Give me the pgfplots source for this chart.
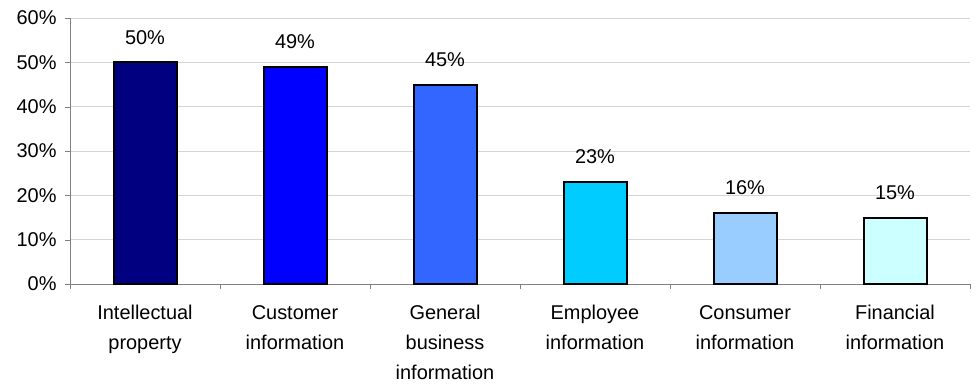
\documentclass[border=0pt]{standalone}
\usepackage{pgfplots}
\pgfplotsset{compat=1.18}
\usepackage{fontspec}
\setmainfont{Liberation Sans}
\definecolor{c1}{HTML}{000080}
\definecolor{c2}{HTML}{0000FF}
\definecolor{c3}{HTML}{3366FF}
\definecolor{c4}{HTML}{00CCFF}
\definecolor{c5}{HTML}{99CCFF}
\definecolor{c6}{HTML}{CCFFFF}
\definecolor{gridc}{HTML}{D4D4D4}
\definecolor{axc}{HTML}{808080}
\newcommand\s{\rule{0pt}{15bp}}
\begin{document}
\begin{tikzpicture}
\useasboundingbox (-70bp,-101bp) rectangle (907bp,284bp);
\begin{axis}[
  at={(0,0)}, anchor=south west,
  scale only axis,
  width=900bp, height=266bp,
  ybar, bar width=63bp, bar shift=0pt,
  xmin=-0.5, xmax=5.5,
  ymin=0, ymax=60,
  ytick={0,10,...,60},
  yticklabel={\pgfmathprintnumber{\tick}\%},
  xtick={0,...,5},
  xticklabels={\s Intellectual\\property, \s Customer\\information, \s General\\business\\information, \s Employee\\information, \s Consumer\\information, \s Financial\\information},
  major x tick style={draw=none},
  minor xtick={-0.5,0.5,...,5.5},
  minor x tick style={draw=axc},
  tick align=outside,
  major tick length=5bp, minor tick length=5bp,
  axis x line*=bottom, axis y line*=left,
  axis line style={draw=axc, line width=0.8bp, -},
  y tick style={draw=axc},
  ymajorgrids, grid style={draw=gridc, line width=0.8bp},
  tick label style={font=\fontsize{20}{30}\selectfont},
  xticklabel style={align=center, anchor=north, yshift=-12bp},
  yticklabel style={xshift=-5bp},
  /pgf/number format/assume math mode=true,
  nodes near coords={\pgfmathprintnumber{\pgfplotspointmeta}\%},
  nodes near coords style={font=\fontsize{20}{30}\selectfont, anchor=center, yshift=25bp, text=black},
]
\addplot[draw=black, line width=2bp, fill=c1] coordinates {(0,50)};
\addplot[draw=black, line width=2bp, fill=c2] coordinates {(1,49)};
\addplot[draw=black, line width=2bp, fill=c3] coordinates {(2,45)};
\addplot[draw=black, line width=2bp, fill=c4] coordinates {(3,23)};
\addplot[draw=black, line width=2bp, fill=c5] coordinates {(4,16)};
\addplot[draw=black, line width=2bp, fill=c6] coordinates {(5,15)};
\end{axis}
\end{tikzpicture}
\end{document}
